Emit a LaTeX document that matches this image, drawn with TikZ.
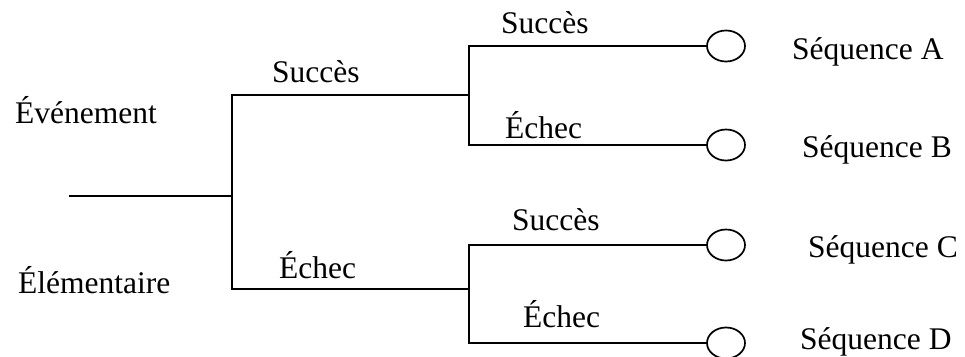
\documentclass[tikz,border=0pt]{standalone}
\usepackage{fontspec}
\setmainfont{Liberation Serif}
\usetikzlibrary{shapes.geometric}
\begin{document}
\begin{tikzpicture}[x=1pt,y=-1pt,
  branch/.style={line width=1.7pt,line cap=rect},
  outcome/.style={ellipse,draw,line width=1.7pt,minimum width=38pt,minimum height=31pt,inner sep=0pt},
  lbl/.style={anchor=base west,inner sep=0pt,font=\fontsize{31.5}{36}\selectfont}]
\useasboundingbox (0,0) rectangle (965,356);
% branching points
\coordinate (root) at (70,196);
\coordinate (j1) at (232,196);
\coordinate (j1u) at (232,95);
\coordinate (j1d) at (232,289);
\coordinate (j2) at (469,95);
\coordinate (j2u) at (469,46);
\coordinate (j2d) at (469,145);
\coordinate (j3) at (469,289);
\coordinate (j3u) at (469,245);
\coordinate (j3d) at (469,343);
% end states
\node[outcome] (sA) at (726,46) {};
\node[outcome] (sB) at (726,145) {};
\node[outcome] (sC) at (726,245) {};
\node[outcome] (sD) at (726,343) {};
% tree
\draw[branch] (root) -- (j1);
\draw[branch] (j1u) -- (j1d);
\draw[branch] (j1u) -- (j2);
\draw[branch] (j1d) -- (j3);
\draw[branch] (j2u) -- (j2d);
\draw[branch] (j3u) -- (j3d);
\draw[branch] (j2u) -- (sA.west);
\draw[branch] (j2d) -- (sB.west);
\draw[branch] (j3u) -- (sC.west);
\draw[branch] (j3d) -- (sD.west);
% labels
\node[lbl] (ev1) at (15,123) {Événement};
\node[lbl] (ev2) at (18,293) {Élémentaire};
\node[lbl] (l1) at (272,82) {Succès};
\node[lbl] (l2) at (279,278) {Échec};
\node[lbl] (l3) at (501,33) {Succès};
\node[lbl] (l4) at (505,138) {Échec};
\node[lbl] (l5) at (512,230) {Succès};
\node[lbl] (l6) at (523,327) {Échec};
\node[lbl] (tA) at (792,59) {Séquence A};
\node[lbl] (tB) at (802,157) {Séquence B};
\node[lbl] (tC) at (808,257) {Séquence C};
\node[lbl] (tD) at (800,349) {Séquence D};
\end{tikzpicture}
\end{document}
